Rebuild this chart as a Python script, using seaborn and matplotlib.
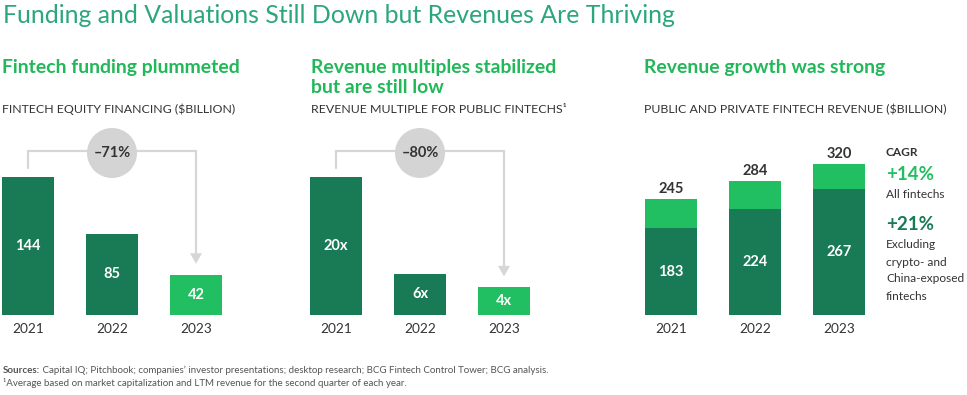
import numpy as np
import pandas as pd
import matplotlib
matplotlib.use("Agg")
import matplotlib.pyplot as plt
import seaborn as sns
from matplotlib.patches import Circle, Polygon

# ---------------- data ----------------
years = ["2021", "2022", "2023"]
funding = [144, 85, 42]
funding_labels = ["144", "85", "42"]
multiples = [20, 6, 4]
multiple_labels = ["20x", "6x", "4x"]
revenue_total = [245, 284, 320]
revenue_ex = [183, 224, 267]
funding_change = "–71%"
multiple_change = "–80%"
cagr_all = "+14%"
cagr_ex = "+21%"

title = "Funding and Valuations Still Down but Revenues Are Thriving"
sub1 = "Fintech funding plummeted"
sub2 = ["Revenue multiples stabilized", "but are still low"]
sub3 = "Revenue growth was strong"
cap1 = "FINTECH EQUITY FINANCING ($BILLION)"
cap2 = "REVENUE MULTIPLE FOR PUBLIC FINTECHS¹"
cap3 = "PUBLIC AND PRIVATE FINTECH REVENUE ($BILLION)"
cagr_lines = ["CAGR", cagr_all, "All fintechs", cagr_ex, "Excluding", "crypto- and",
              "China-exposed", "fintechs"]
src_bold = "Sources:"
src_rest = " Capital IQ; Pitchbook; companies’ investor presentations; desktop research; BCG Fintech Control Tower; BCG analysis."
note = "¹Average based on market capitalization and LTM revenue for the second quarter of each year."

# ---------------- style ----------------
DARK = "#197a56"
LIGHT = "#21bf61"
TITLE_C = "#2ba67f"
SUB_C = "#22b85a"
TXT = "#333333"
LINE_G = "#d6d6d6"
CIRC_G = "#d4d4d4"

W, H = 967, 395
sns.set_theme(style="white")
plt.rcParams["font.family"] = ["Lato", "DejaVu Sans"]

fig = plt.figure(figsize=(W / 100, H / 100), dpi=100)
fig.patch.set_facecolor("white")
ov = fig.add_axes([0, 0, 1, 1], zorder=5)
ov.set_xlim(0, W)
ov.set_ylim(H, 0)
ov.axis("off")
ov.patch.set_alpha(0)

renderer = fig.canvas.get_renderer()


def fit(t, width):
    bb = t.get_window_extent(renderer)
    t.set_fontsize(t.get_fontsize() * width / bb.width)
    return t.get_fontsize()


BASE = 315
TOP = 140
SPACING = 84


def make_ax(L, R, c0, pxper):
    ax = fig.add_axes([L / W, (H - BASE) / H, (R - L) / W, (BASE - TOP) / H])
    return ax, ((L - c0) / SPACING, (R - c0) / SPACING), (0, (BASE - TOP) / pxper)


def finish(ax, xl, yl):
    ax.set_xlim(*xl)
    ax.set_ylim(*yl)
    ax.set_yticks([])
    ax.set_xlabel("")
    ax.set_ylabel("")
    sns.despine(ax=ax, left=True, bottom=True)
    ax.tick_params(axis="x", length=0, pad=6, labelsize=9.8, labelcolor=TXT)
    ax.patch.set_alpha(0)


def to_px(ax, x, y):
    d = ax.transData.transform((x, y))
    return d[0], H - d[1]


def bracket(ax, vals, label):
    x0, y0 = to_px(ax, 0, vals[0])
    x2, y2 = to_px(ax, 2, vals[2])
    ly = 151
    ov.plot([x0, x0, x2, x2], [y0 - 9, ly, ly, y2 - 21], color=LINE_G, lw=1.6,
            solid_joinstyle="miter", zorder=2)
    ov.add_patch(Polygon([[x2 - 6, y2 - 21.5], [x2 + 6, y2 - 21.5], [x2, y2 - 11]],
                         closed=True, color=LINE_G, lw=0, zorder=2))
    cx = (x0 + x2) / 2
    ov.add_patch(Circle((cx, ly + 2), 25, color=CIRC_G, lw=0, zorder=3))
    ov.text(cx, ly + 2, label, ha="center", va="center", fontsize=10.5,
            weight="bold", color=TXT, zorder=4)


# ---- panel 1 ----
df1 = pd.DataFrame({"year": years, "value": funding})
pal1 = {years[0]: DARK, years[1]: DARK, years[2]: LIGHT}
ax1, xl1, yl1 = make_ax(0, 290, 28, 0.958)
sns.barplot(data=df1, x="year", y="value", hue="year", palette=pal1, order=years,
            width=0.62, saturation=1, legend=False, ax=ax1, linewidth=0)
finish(ax1, xl1, yl1)
for i, (v, lab) in enumerate(zip(funding, funding_labels)):
    ax1.text(i, v / 2, lab, ha="center", va="center", color="white", fontsize=10.5,
             weight="bold")
bracket(ax1, funding, funding_change)

# ---- panel 2 ----
df2 = pd.DataFrame({"year": years, "value": multiples})
ax2, xl2, yl2 = make_ax(300, 620, 336, 6.9)
sns.barplot(data=df2, x="year", y="value", hue="year", palette=pal1, order=years,
            width=0.62, saturation=1, legend=False, ax=ax2, linewidth=0)
finish(ax2, xl2, yl2)
for i, (v, lab) in enumerate(zip(multiples, multiple_labels)):
    ax2.text(i, v / 2, lab, ha="center", va="center", color="white", fontsize=10.5,
             weight="bold")
bracket(ax2, multiples, multiple_change)

# ---- panel 3 ----
df3 = pd.DataFrame({"year": years, "total": revenue_total, "ex": revenue_ex})
ax3, xl3, yl3 = make_ax(630, 880, 671, 0.473)
sns.barplot(data=df3, x="year", y="total", color=LIGHT, order=years,
            width=0.62, saturation=1, ax=ax3, linewidth=0)
sns.barplot(data=df3, x="year", y="ex", color=DARK, order=years,
            width=0.62, saturation=1, ax=ax3, linewidth=0)
finish(ax3, xl3, yl3)
for i, (t, e) in enumerate(zip(revenue_total, revenue_ex)):
    ax3.text(i, e / 2, str(e), ha="center", va="center", color="white", fontsize=10.5,
             weight="bold")
    ax3.annotate(str(t), (i, t), xytext=(0, 7), textcoords="offset points",
                 ha="center", va="center", color=TXT, fontsize=10.5, weight="bold")

# ---- CAGR block ----
probe = ov.text(886, 279, cagr_lines[6], ha="left", va="center", fontsize=9, color=TXT)
fb = fit(probe, 78)
probe.remove()
cy = [153, 175, 194, 225, 245, 262, 279, 296]
styles = [dict(fontsize=fb, weight="bold", color=TXT),
          dict(fontsize=13.5, weight="bold", color=LIGHT),
          dict(fontsize=fb, color=TXT),
          dict(fontsize=13.5, weight="bold", color=DARK),
          dict(fontsize=fb, color=TXT),
          dict(fontsize=fb, color=TXT),
          dict(fontsize=fb, color=TXT),
          dict(fontsize=fb, color=TXT)]
for s, y, st in zip(cagr_lines, cy, styles):
    ov.text(886, y, s, ha="left", va="center", **st)

# ---- headings ----
t = ov.text(3, 23, title, ha="left", va="baseline", fontsize=20, weight="normal",
            color=TITLE_C)
fit(t, 675)

s1 = ov.text(2, 73, sub1, ha="left", va="baseline", fontsize=13, weight="bold", color=SUB_C)
fs = fit(s1, 238)
ov.text(311, 73, sub2[0], ha="left", va="baseline", fontsize=fs, weight="bold", color=SUB_C)
ov.text(311, 93, sub2[1], ha="left", va="baseline", fontsize=fs, weight="bold", color=SUB_C)
ov.text(644, 73, sub3, ha="left", va="baseline", fontsize=fs, weight="bold", color=SUB_C)

c1 = ov.text(2, 113, cap1, ha="left", va="baseline", fontsize=9, color=TXT)
fc = fit(c1, 235)
ov.text(311, 113, cap2, ha="left", va="baseline", fontsize=fc, color=TXT)
ov.text(644, 113, cap3, ha="left", va="baseline", fontsize=fc, color=TXT)

# ---- footnotes ----
FN = "#555555"
fsz = 7.0
b = ov.text(3, 373, src_bold, ha="left", va="baseline", fontsize=fsz, weight="bold", color=FN)
bw = b.get_window_extent(renderer).width
ov.text(3 + bw, 373, src_rest, ha="left", va="baseline", fontsize=fsz, color=FN)
ov.text(3, 386, note, ha="left", va="baseline", fontsize=fsz, color=FN)

fig.savefig("out.png", dpi=100, facecolor="white")
